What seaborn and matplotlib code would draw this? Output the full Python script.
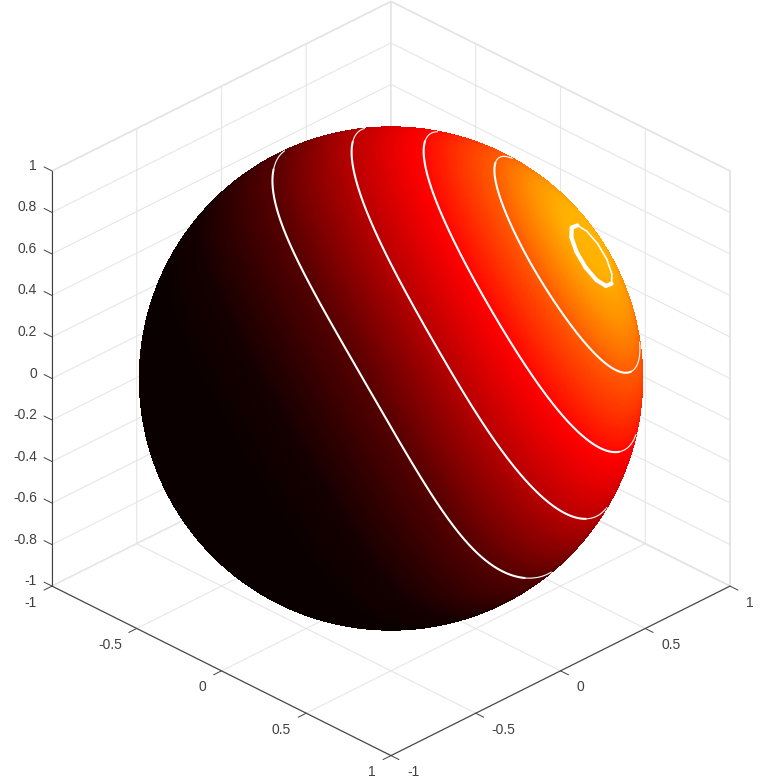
"""Sphere with hot colouring and white level lines, MATLAB-style 3D box."""
import matplotlib
matplotlib.use("Agg")
import matplotlib.pyplot as plt
from mpl_toolkits.mplot3d import proj3d
import numpy as np
import seaborn as sns

# ---- values -----------------------------------------------------------------
box_ticks = [-1, -0.5, 0, 0.5, 1]
box_tick_labels = ["-1", "-0.5", "0", "0.5", "1"]
z_ticks = [-1, -0.8, -0.6, -0.4, -0.2, 0, 0.2, 0.4, 0.6, 0.8, 1]
z_tick_labels = ["-1", "-0.8", "-0.6", "-0.4", "-0.2", "0", "0.2", "0.4", "0.6", "0.8", "1"]

sphere_radius = 1.05
line_levels = [-0.097, 0.218, 0.468, 0.667]
# small ring near the brightest spot: centre on the seen disc, angular radius
ring_u, ring_v = 0.805, 0.493
ring_radius_deg = 8.0
ring_corners = 12
# colour position along the field (field value -> place on the hot map)
field_stops = [-1.0, -0.70, -0.45, -0.32, -0.10, 0.218, 0.468, 0.667, 0.80, 1.0]
hot_stops = [0.0, 0.0, 0.018, 0.05, 0.11, 0.26, 0.375, 0.50, 0.63, 0.66]

sns.set_theme(style="white")
plt.rcParams["font.family"] = ["Liberation Sans", "DejaVu Sans"]
hot = sns.color_palette("hot", as_cmap=True)
ink = "#404040"

# view directions: screen right, screen up, toward the viewer
el = np.radians(30)
e_r = np.array([1, 1, 0]) / np.sqrt(2)
e_u = np.array([-np.sin(el) / np.sqrt(2), np.sin(el) / np.sqrt(2), np.cos(el)])
e_w = np.array([np.cos(el) / np.sqrt(2), -np.cos(el) / np.sqrt(2), np.sin(el)])


def depth(u, v):
    return np.sqrt(np.clip(1 - u ** 2 - v ** 2, 0, None))


def field(u, v):
    # u, v on the unit disc seen from the camera
    d = 0.866 * u + 0.5 * v
    t = 0.5 * u - 0.866 * v
    k = 0.85 + 0.15 * np.tanh(t / 0.24)
    p = 1.4 + 1.6 * np.clip(0.2 - d, 0, None)
    return d - 0.286 * k * (1 - depth(u, v)) ** p


def lift(u, v):
    w = depth(u, v)
    p = sphere_radius * (np.multiply.outer(u, e_r) + np.multiply.outer(v, e_u) + np.multiply.outer(w, e_w))
    return p[..., 0], p[..., 1], p[..., 2]


fig = plt.figure(figsize=(7.8, 7.8), dpi=100)
ax = fig.add_axes([0, 0, 1, 1], projection="3d", computed_zorder=False)
ax.set_proj_type("ortho")
ax.view_init(elev=30, azim=-45)
ax.set_xlim(-1, 1, view_margin=0)
ax.set_ylim(-1, 1, view_margin=0)
ax.set_zlim(-1, 1, view_margin=0)
ax.set_box_aspect((1, 1, 1))


def to_px(x, y, z):
    x2, y2, _ = proj3d.proj_transform(x, y, z, ax.get_proj())
    return ax.transData.transform((x2, y2))


# place the box: centre at (391, 378.5) from top-left, half width 339 px
c0 = to_px(0, 0, 0)
r0 = to_px(1, 1, 0)
side = 780 * 339 / (r0[0] - c0[0])
ax.set_position([0, 0, side / 780, side / 780])
ax.apply_aspect()
c1 = to_px(0, 0, 0)
ax.set_position([(391 - c1[0]) / 780, ((780 - 378.5) - c1[1]) / 780, side / 780, side / 780])
ax.apply_aspect()

# ---- box styling -------------------------------------------------------------
ax.set_xticks(box_ticks)
ax.set_yticks(box_ticks)
ax.set_zticks(z_ticks)
ax.zaxis.set_ticks_position("lower")
for axis in (ax.xaxis, ax.yaxis, ax.zaxis):
    axis.set_ticklabels([])
    axis.set_pane_color((1, 1, 1, 1))
    axis.pane.set_edgecolor("#dadada")
    axis.line.set_color(ink)
    axis.line.set_linewidth(0.8)
    axis._axinfo["grid"].update(color="#e6e6e6", linewidth=0.8)
    axis._axinfo["tick"].update(inward_factor=0.0, outward_factor=0.0)
ax.grid(True)

# tick marks and labels sit beside the three dark edges
tick_len = 0.047
for val, lab in zip(box_ticks, box_tick_labels):
    ax.plot([val, val], [-1, -1 - tick_len], [-1, -1], color=ink, lw=0.7, zorder=0)
    ax.plot([1, 1 + tick_len], [val, val], [-1, -1], color=ink, lw=0.7, zorder=0)
    px, py = to_px(val, -1, -1)
    fig.text((px - 15) / 780, (py - 16.5) / 780, lab, ha="right", va="center", color=ink, fontsize=10)
    px, py = to_px(1, val, -1)
    fig.text((px + 16) / 780, (py - 16.5) / 780, lab, ha="left", va="center", color=ink, fontsize=10)
for val, lab in zip(z_ticks, z_tick_labels):
    ax.plot([-1, -1 - tick_len], [-1, -1], [val, val], color=ink, lw=0.7, zorder=0)
    px, py = to_px(-1, -1, val)
    fig.text((px - 15) / 780, (py + 5) / 780, lab, ha="right", va="center", color=ink, fontsize=10)

# ---- surface, seen half only -----------------------------------------------------
alpha = np.linspace(0, np.pi / 2, 220)
theta = np.linspace(0, 2 * np.pi, 800)
uu = np.outer(np.sin(alpha), np.cos(theta))
vv = np.outer(np.sin(alpha), np.sin(theta))
sx, sy, sz = lift(uu, vv)
colours = hot(np.interp(field(uu, vv), field_stops, hot_stops))
ax.plot_surface(sx, sy, sz, facecolors=colours, rstride=1, cstride=1, shade=False,
                linewidth=0, antialiased=False, zorder=1)

# ---- level lines --------------------------------------------------------------
grid_u, grid_v = np.meshgrid(np.linspace(-1, 1, 900), np.linspace(-1, 1, 900))
phi = np.ma.masked_where(grid_u ** 2 + grid_v ** 2 > 0.9985, field(grid_u, grid_v))
tmp_fig, tmp_ax = plt.subplots()
line_segs = tmp_ax.contour(grid_u, grid_v, phi, levels=line_levels).allsegs
plt.close(tmp_fig)

for level in line_segs:
    for seg in level:
        lx, ly, lz = lift(seg[:, 0], seg[:, 1])
        near_edge = depth(seg[:, 0], seg[:, 1]) < 0.3
        # lines get thin where the surface turns away, NaN breaks the line
        for keep, lw in [(~near_edge, 1.5), (near_edge, 0.8)]:
            ax.plot(np.where(keep, lx, np.nan), np.where(keep, ly, np.nan), np.where(keep, lz, np.nan),
                    color="white", lw=lw, zorder=2, solid_capstyle="round")

# ---- ring: coarse polygon, heavy on the side facing the viewer -------------------
ring_w = depth(np.float64(ring_u), np.float64(ring_v))
ring_c = ring_u * e_r + ring_v * e_u + ring_w * e_w
ring_a = np.cross(ring_c, e_w)
ring_a /= np.linalg.norm(ring_a)
ring_b = np.cross(ring_c, ring_a)
rho = np.radians(ring_radius_deg)
psi = np.linspace(0, 2 * np.pi, ring_corners + 1) + 0.2
ring_pts = sphere_radius * (np.cos(rho) * ring_c
                            + np.sin(rho) * (np.outer(np.cos(psi), ring_a) + np.outer(np.sin(psi), ring_b)))
ring_depth = ring_pts @ e_w / sphere_radius
for i in range(ring_corners):
    heavy = 0.5 * (ring_depth[i] + ring_depth[i + 1]) > ring_w - 0.02
    ax.plot(ring_pts[i:i + 2, 0], ring_pts[i:i + 2, 1], ring_pts[i:i + 2, 2], color="white",
            lw=3.0 if heavy else 1.2, zorder=3, solid_capstyle="round")

fig.savefig("out.png", dpi=100)
